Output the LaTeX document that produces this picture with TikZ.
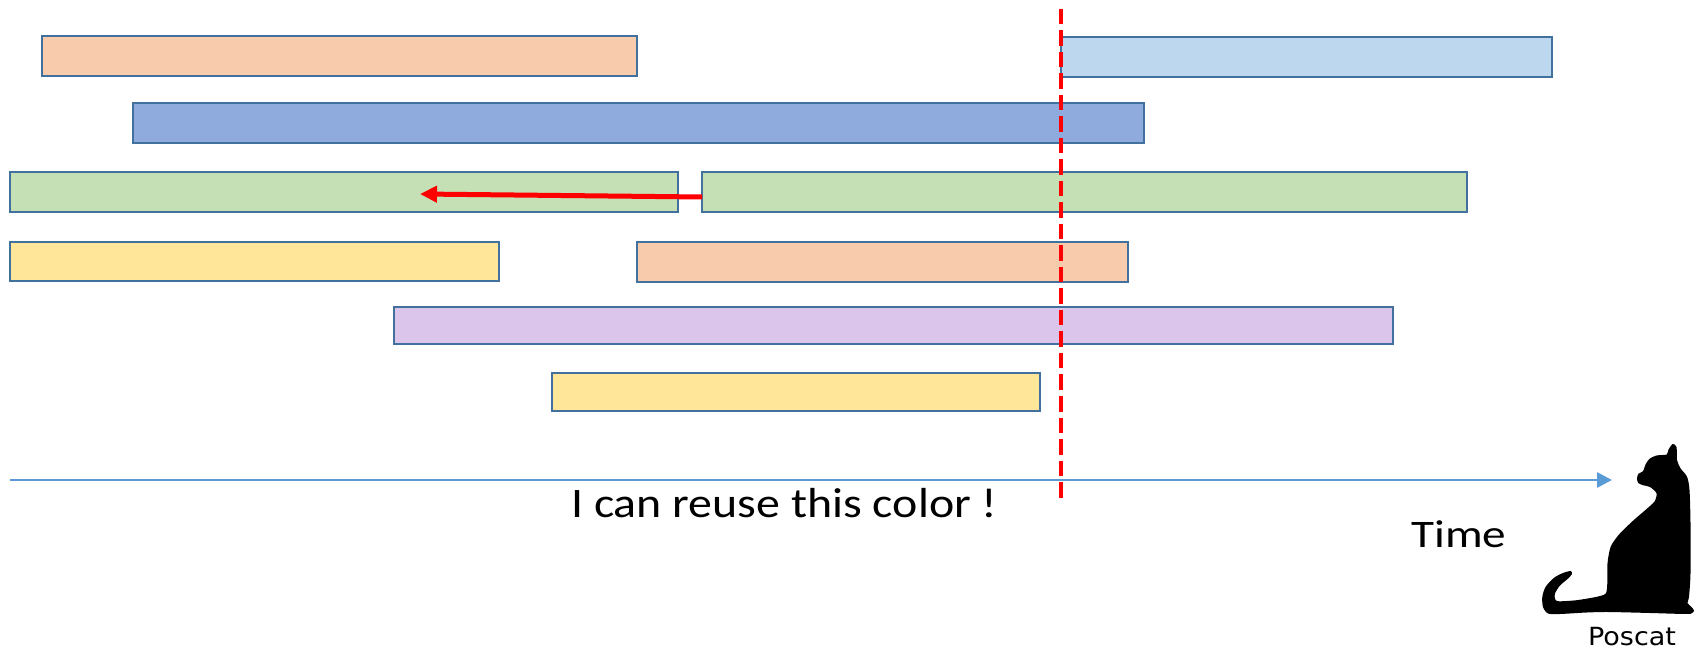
\documentclass[tikz,border=0pt]{standalone}
\usepackage{fontspec}
\setmainfont{Carlito}
\newfontfamily\catfont{DejaVu Sans}
\usetikzlibrary{arrows.meta}

\definecolor{barline}{HTML}{41719C}
\definecolor{peach}{HTML}{F8CBAD}
\definecolor{cornflower}{HTML}{8FAADC}
\definecolor{skyblue}{HTML}{BDD7EE}
\definecolor{sage}{HTML}{C5E0B4}
\definecolor{butter}{HTML}{FFE699}
\definecolor{lilac}{HTML}{DBC5EA}
\definecolor{axisblue}{HTML}{5B9BD5}
\definecolor{alertred}{HTML}{FF0000}

% one interval bar: name, left, top, right, bottom, fill colour
\newcommand{\interval}[6]{%
  \node[intervalbar, fill=#6, anchor=north west,
        minimum width={(#4-#2)*1pt}, minimum height={(#5-#3)*1pt}]
        (#1) at (#2,#3) {};}

\tikzset{
  intervalbar/.style={draw=barline, line width=2.6pt, rectangle,
                      inner sep=0pt, outer sep=0pt},
  timeaxis/.style={draw=axisblue, line width=2.7pt,
                   -{Triangle[length=15pt, width=15pt]}},
  cutline/.style={draw=alertred, line width=4pt, dash pattern=on 15.5pt off 6pt},
  reusearrow/.style={draw=alertred, line width=5pt,
                     -{Triangle[length=17pt, width=16pt]}},
  label/.style={inner sep=0pt, anchor=base west},
}

\begin{document}
\begin{tikzpicture}[x=1pt, y=-1pt]
  \fill[white] (0,0) rectangle (1701,652);
  \useasboundingbox (0,0) rectangle (1701,652);

  % intervals
  \interval{peachA}{42}{36}{637}{76}{peach}
  \interval{blueA}{133}{103}{1144}{143}{cornflower}
  \interval{skyA}{1061}{37}{1552}{77}{skyblue}
  \interval{greenL}{10}{172}{678}{212}{sage}
  \interval{greenR}{702}{172}{1467}{212}{sage}
  \interval{yellowL}{10}{242}{499}{281}{butter}
  \interval{peachB}{637}{242}{1128}{282}{peach}
  \interval{lilacA}{394}{307}{1393}{344}{lilac}
  \interval{yellowB}{552}{373}{1040}{411}{butter}

  % time axis
  \coordinate (axisstart) at (10,480);
  \coordinate (axisend) at (1612,480);
  \draw[timeaxis] (axisstart) -- (axisend);

  % current time cut
  \coordinate (cuttop) at (1061,9);
  \coordinate (cutbottom) at (1061,499);
  \draw[cutline] (cuttop) -- (cutbottom);

  % colour reuse arrow
  \coordinate (reuseend) at (420,194);
  \draw[reusearrow] ([yshift=-5pt]greenR.west) -- (reuseend);

  % labels
  \node[label, font=\fontsize{42}{50}\selectfont] (reuse) at (571,517)
    {\scalebox{1.14}[1]{I can reuse this color !}};
  \node[label, font=\fontsize{39}{46}\selectfont] (time) at (1411,547)
    {\scalebox{1.21}[1]{Time}};

  % sitting cat silhouette
  \fill[black] plot[smooth cycle, tension=0.45] coordinates {
    (1672.7,444) (1676.5,447) (1677,460) (1680.5,468.3) (1687,476.7)
    (1689.5,490) (1690.5,523.3) (1690.5,573.3) (1689,596.7) (1687.5,603)
    (1691.5,607) (1694,610.7) (1690.5,613.8) (1676.7,613.8)
    (1650,613) (1608.3,612) (1586.7,612.5) (1560,614)
    (1548,613.5) (1543,607) (1542.3,596.7) (1545.7,586.7)
    (1554,577.8) (1563,573) (1570.7,571) (1572,574)
    (1567.5,579) (1559.5,586) (1554.8,594) (1555.3,599.5)
    (1559,601.3) (1576.7,600.2) (1596.7,596.8) (1605.7,593.5)
    (1607.3,583.3) (1607.5,563.3) (1610.7,546.7) (1619,534.5)
    (1632.5,521.2) (1646,509.5) (1654.5,501.5) (1656.5,493.3)
    (1650,487) (1643.3,485.3) (1638.2,483) (1637,478.3)
    (1638.5,473.7) (1643,471.2) (1645.5,464.5) (1649.5,458.8)
    (1656.5,455.5) (1666.7,454.5) (1668.5,449.5)
  };
  \node[inner sep=0pt, font=\catfont\fontsize{25}{30}\selectfont] (catname)
    at (1632,637) {\scalebox{1.08}[1]{Poscat}};
\end{tikzpicture}
\end{document}
